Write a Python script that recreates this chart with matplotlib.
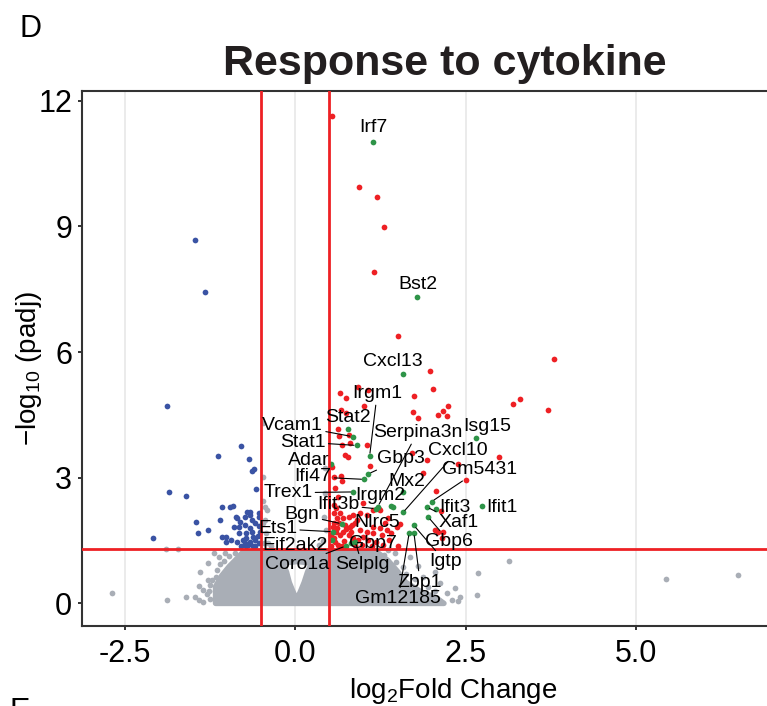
import numpy as np
import matplotlib
matplotlib.use('Agg')
import matplotlib.pyplot as plt
from matplotlib.path import Path
from matplotlib.patches import PathPatch

plt.rcParams['font.family'] = 'Liberation Sans'
plt.rcParams['mathtext.fontset'] = 'custom'
plt.rcParams['mathtext.rm'] = 'Liberation Sans'
plt.rcParams['mathtext.default'] = 'regular'
plt.rcParams['axes.unicode_minus'] = False

# ---- data (log2 fold change, -log10 padj) ----
# up-regulated, not labelled
up = [(0.54, 11.64), (0.94, 9.94), (1.20, 9.71), (1.30, 8.99), (1.15, 7.92),
      (1.50, 6.39), (3.79, 5.84), (1.98, 5.55), (0.92, 5.17), (2.02, 5.12),
      (0.65, 5.03), (1.74, 4.96), (1.01, 4.72), (3.29, 4.89), (3.20, 4.76),
      (3.71, 4.61), (2.24, 4.72), (2.16, 4.60), (2.10, 4.50), (2.23, 4.47),
      (1.80, 4.43), (0.67, 4.62), (0.75, 4.55), (0.62, 4.17), (0.64, 4.00),
      (0.79, 4.01), (0.68, 3.77), (0.80, 3.82), (1.05, 3.77), (0.73, 3.54),
      (0.77, 3.50), (1.10, 3.29), (1.71, 3.58), (2.99, 3.50), (1.93, 3.42),
      (1.87, 3.12), (2.51, 2.95), (2.39, 3.32), (0.54, 3.26), (0.67, 3.03),
      (0.68, 2.93), (0.56, 3.02), (2.06, 2.69), (0.74, 4.90), (1.07, 5.10),
      (1.72, 4.56), (2.14, 2.21), (2.09, 1.71), (2.17, 1.71), (1.23, 2.25),
      (0.56, 2.35), (0.60, 2.27), (0.56, 2.15), (0.65, 2.15), (0.61, 2.03),
      (0.70, 2.03), (0.78, 2.07), (0.85, 2.11), (0.90, 1.99), (0.73, 1.87),
      (0.80, 1.83), (0.88, 1.91), (0.95, 1.75), (1.05, 1.71), (1.14, 1.83),
      (1.24, 1.79), (1.32, 1.91), (1.14, 1.68), (0.61, 1.79), (0.65, 1.63),
      (0.70, 1.71), (0.78, 1.63), (0.85, 1.56), (0.92, 1.52), (1.00, 1.59),
      (1.07, 1.52), (1.27, 1.63), (1.34, 1.75), (1.41, 1.68), (1.49, 1.83),
      (0.58, 1.47), (0.63, 1.40), (0.68, 1.36), (0.53, 1.63), (0.56, 1.91),
      (1.14, 2.23), (1.24, 2.23), (0.95, 2.16), (2.05, 1.75), (2.15, 1.56),
      (1.36, 2.04), (1.54, 1.89), (0.83, 1.87), (1.05, 2.11), (1.19, 1.47),
      (1.51, 1.36), (0.53, 1.38), (0.57, 1.55), (0.60, 1.70), (0.55, 1.82),
      (0.64, 1.93), (0.72, 1.48), (0.75, 1.77), (0.82, 1.70), (0.88, 1.40),
      (0.98, 1.40), (1.12, 1.38), (1.29, 1.40), (1.38, 1.52), (0.62, 2.55),
      (0.58, 2.76), (1.00, 2.40)]
up_lfc, up_logp = map(list, zip(*up))

# down-regulated
down = [(-1.47, 8.68), (-1.33, 7.43), (-1.88, 4.72), (-0.79, 3.75), (-1.13, 3.51),
        (-0.68, 3.44), (-0.64, 3.16), (-0.60, 3.21), (-0.58, 2.73), (-1.86, 2.67),
        (-1.61, 2.56), (-1.07, 2.31), (-0.96, 2.30), (-0.92, 2.33), (-0.87, 2.07),
        (-0.74, 2.07), (-0.71, 2.18), (-0.67, 2.11), (-0.54, 2.15), (-0.53, 2.07),
        (-1.46, 1.94), (-1.11, 1.98), (-0.59, 1.91), (-0.90, 1.83), (-0.82, 1.83),
        (-1.43, 1.68), (-1.28, 1.74), (-0.83, 1.68), (-0.72, 1.68), (-0.64, 1.71),
        (-0.62, 1.59), (-0.52, 1.71), (-2.09, 1.56), (-1.07, 1.59), (-1.02, 1.59),
        (-1.01, 1.46), (-0.74, 1.44), (-0.67, 1.47), (-0.59, 1.52), (-0.54, 1.44),
        (-0.72, 1.56), (-0.79, 1.36), (-0.72, 1.36), (-0.62, 1.36), (-0.86, 2.03),
        (-0.81, 1.95), (-0.67, 2.19), (-0.74, 1.87), (-0.64, 1.99), (-0.77, 1.52),
        (-0.86, 1.47), (-0.94, 1.52), (-0.59, 1.36), (-0.55, 1.60), (-0.53, 1.85),
        (-0.66, 1.80), (-0.69, 1.40)]
down_lfc, down_logp = map(list, zip(*down))

# not significant, scattered points
ns = [(-2.69, 0.24), (-1.88, 0.08), (-1.90, 1.29), (-1.72, 1.29), (-1.60, 0.15),
      (-1.47, 0.15), (-1.41, 0.08), (-1.35, 0.04), (-1.41, 0.42), (-1.35, 0.31),
      (-1.28, 0.96), (-1.40, 0.76), (-1.20, 1.20), (-1.03, 1.21), (-0.89, 1.20),
      (-0.73, 1.21), (-1.16, 0.64), (-1.06, 0.68), (-0.99, 0.80), (-1.04, 1.00),
      (-0.92, 0.96), (-0.75, 1.00), (-1.25, 0.44), (-1.28, 0.56),
      (-1.25, 0.10), (-1.30, 0.22), (-1.22, 0.55), (-1.15, 0.80), (-1.10, 0.93),
      (-0.98, 1.12), (-1.12, 1.10), (-1.27, 0.30), (-1.18, 0.30),
      (2.68, 0.73), (3.14, 1.01), (5.44, 0.58), (6.50, 0.68),
      (1.58, 0.87), (1.68, 1.11), (1.87, 0.63), (2.12, 0.49), (2.22, 0.25),
      (2.41, 0.16), (2.34, 0.37), (2.05, 0.75), (1.80, 0.89), (1.46, 1.21),
      (1.36, 1.28), (2.66, 0.20), (1.30, 1.15), (1.48, 0.98), (1.62, 0.70),
      (1.75, 0.58), (1.95, 0.40), (2.05, 0.30), (2.30, 0.08), (2.38, 0.05),
      (1.72, 0.35), (1.98, 0.18),
      (-0.48, 4.31), (-0.48, 3.02), (-0.47, 2.45), (-0.42, 2.23), (-0.47, 1.92),
      (-0.45, 2.31), (-0.44, 1.99), (-0.43, 1.68), (-0.46, 1.44), (0.43, 3.23),
      (0.43, 2.64), (0.42, 2.06), (0.45, 1.75), (0.40, 1.50), (-0.40, 1.45),
      (-0.35, 1.38), (0.35, 1.40)]
ns_lfc, ns_logp = map(list, zip(*ns))

# outline of the solid mass of overplotted non-significant genes, and the empty V near 0
cloud_lfc = [-1.17, -1.17, -1.08, -0.97, -0.85, -0.77, -0.40, 0.00, 0.60, 1.20,
             1.36, 1.50, 1.62, 1.84, 2.06, 2.18]
cloud_logp = [0.00, 0.40, 0.66, 0.88, 1.08, 1.22, 1.25, 1.25, 1.25, 1.22,
              1.02, 0.76, 0.50, 0.28, 0.14, 0.00]
gap_lfc = [-0.19, -0.13, -0.09, -0.04, 0.02, 0.08, 0.13, 0.18, 0.24, 0.03]
gap_logp = [0.96, 0.75, 0.50, 0.30, 0.08, 0.30, 0.50, 0.75, 0.96, 1.00]

# labelled genes (response to cytokine)
genes = ['Irf7', 'Bst2', 'Cxcl13', 'Irgm1', 'Stat2', 'Vcam1', 'Stat1', 'Adar',
         'Ifi47', 'Gbp3', 'Serpina3n', 'Ifit3b', 'Irgm2', 'Trex1', 'Mx2', 'Cxcl10',
         'Gm5431', 'Isg15', 'Ifit1', 'Ifit3', 'Xaf1', 'Gbp6', 'Igtp', 'Zbp1',
         'Gm12185', 'Nlrc5', 'Bgn', 'Ets1', 'Eif2ak2', 'Coro1a', 'Selplg', 'Gbp7']
gene_lfc = [1.14, 1.79, 1.58, 1.09, 0.77, 0.84, 0.90, 0.52,
            1.01, 1.07, 1.21, 1.18, 1.40, 0.85, 1.58, 1.58,
            2.00, 2.65, 2.74, 2.06, 1.93, 1.95, 1.74, 1.74,
            1.67, 1.43, 0.68, 0.55, 0.54, 0.74, 0.88, 0.82]
gene_logp = [11.01, 7.31, 5.48, 3.52, 4.16, 3.98, 3.77, 3.33,
             2.96, 3.09, 2.31, 2.26, 2.32, 2.66, 2.67, 2.17,
             2.43, 3.94, 2.33, 2.25, 2.30, 2.06, 1.86, 1.68,
             1.68, 2.29, 1.90, 1.71, 1.52, 1.37, 1.47, 1.44]

# where the repelled labels ended up
label_pos = {'Irf7': (1.14, 11.35), 'Bst2': (1.80, 7.60), 'Cxcl13': (1.43, 5.78),
             'Irgm1': (1.20, 5.00), 'Stat2': (0.77, 4.44), 'Vcam1': (-0.04, 4.25),
             'Stat1': (0.11, 3.85), 'Adar': (0.19, 3.40), 'Ifi47': (0.26, 3.02),
             'Gbp3': (1.55, 3.45), 'Serpina3n': (1.79, 4.07), 'Ifit3b': (0.63, 2.35),
             'Irgm2': (1.24, 2.57), 'Trex1': (-0.11, 2.64), 'Mx2': (1.64, 2.92),
             'Cxcl10': (2.39, 3.66), 'Gm5431': (2.70, 3.19), 'Isg15': (2.81, 4.21),
             'Ifit1': (3.03, 2.30), 'Ifit3': (2.34, 2.30), 'Xaf1': (2.39, 1.92),
             'Gbp6': (2.26, 1.47), 'Igtp': (2.20, 0.99), 'Zbp1': (1.83, 0.51),
             'Gm12185': (1.51, 0.11), 'Nlrc5': (1.20, 1.92), 'Bgn': (0.10, 2.11),
             'Ets1': (-0.26, 1.78), 'Eif2ak2': (-0.01, 1.38), 'Coro1a': (0.02, 0.92),
             'Selplg': (0.98, 0.92), 'Gbp7': (1.14, 1.44)}
with_segment = {'Irgm1', 'Vcam1', 'Stat1', 'Ifi47', 'Gbp3', 'Serpina3n', 'Ifit3b',
                'Trex1', 'Cxcl10', 'Gm5431', 'Xaf1', 'Gbp6', 'Igtp', 'Zbp1',
                'Gm12185', 'Bgn', 'Ets1', 'Coro1a', 'Selplg'}

lfc_cut = 0.5
p_cut = -np.log10(0.05)

RED = '#EE2024'
BLUE = '#3A53A4'
GREEN = '#2E9448'
GREY = '#A9AEB6'

fig = plt.figure(figsize=(7.67, 7.06), dpi=100)
ax = fig.add_axes([82/767, 1 - 626/706, 685/767, 535/706])

# dense grey mass with the hole
def ring(xs, ys, ccw=True):
    v = np.column_stack([xs, ys])
    area = 0.5 * np.sum(v[:, 0]*np.roll(v[:, 1], -1) - np.roll(v[:, 0], -1)*v[:, 1])
    if (area > 0) != ccw:
        v = v[::-1]
    return np.vstack([v, v[:1]])

outer = ring(cloud_lfc, cloud_logp, True)
inner = ring(gap_lfc, gap_logp, False)
verts = np.vstack([outer, inner])
codes = ([Path.MOVETO] + [Path.LINETO]*(len(outer)-2) + [Path.CLOSEPOLY]
         + [Path.MOVETO] + [Path.LINETO]*(len(inner)-2) + [Path.CLOSEPOLY])
ax.add_patch(PathPatch(Path(verts, codes), facecolor=GREY, edgecolor=GREY,
                       lw=4.0, joinstyle='round', zorder=2))

msize = 17
ax.scatter(ns_lfc, ns_logp, s=msize, color=GREY, lw=0, zorder=2)
ax.scatter(down_lfc, down_logp, s=msize, color=BLUE, lw=0, zorder=3)
ax.scatter(up_lfc, up_logp, s=msize, color=RED, lw=0, zorder=3)
ax.scatter(gene_lfc, gene_logp, s=msize, color=GREEN, lw=0, zorder=4)

ax.axvline(-lfc_cut, color=RED, lw=2.0, zorder=5)
ax.axvline(lfc_cut, color=RED, lw=2.0, zorder=5)
ax.axhline(p_cut, color=RED, lw=2.0, zorder=5)

for g, gx, gy in zip(genes, gene_lfc, gene_logp):
    lx, ly = label_pos[g]
    kw = {}
    if g in with_segment:
        kw['arrowprops'] = dict(arrowstyle='-', color='black', lw=0.8,
                                shrinkA=0, shrinkB=2)
    ax.annotate(g, xy=(gx, gy), xytext=(lx, ly), ha='center', va='center',
                fontsize=14, color='black', zorder=6, **kw)

ax.set_xlim(-3.13, 6.92)
ax.set_ylim(-0.54, 12.23)
ax.set_xticks([-2.5, 0.0, 2.5, 5.0])
ax.set_xticklabels(['-2.5', '0.0', '2.5', '5.0'])
ax.set_yticks([0, 3, 6, 9, 12])
ax.grid(axis='x', color='#EBEBEB', lw=1.4)
ax.grid(axis='y', visible=False)
ax.set_axisbelow(True)
for s in ['left', 'bottom', 'top']:
    ax.spines[s].set_color('#333333')
    ax.spines[s].set_linewidth(1.5)
ax.spines['right'].set_visible(False)
ax.tick_params(axis='both', length=3, width=1.4, color='#333333',
               labelsize=22, labelcolor='black', pad=4)
ax.tick_params(axis='x', pad=6)

fig.text(0.580, 1 - 75/706, 'Response to cytokine', ha='center', va='baseline',
         fontsize=31, fontweight='bold', color='#231F20')
fig.text(20/767, 1 - 37/706, 'D', ha='left', va='baseline', fontsize=22)
fig.text(10/767, 1 - 697/706, 'E', ha='left', va='top', fontsize=22)
fig.text(29/767, 1 - 369/706, '\u2212log$_{10}$ (padj)', rotation=90,
         ha='center', va='center', fontsize=20)
fig.text(453/767, 1 - 698/706, 'log$_2$Fold Change', ha='center', va='baseline',
         fontsize=20)

fig.savefig('out.png', dpi=100)
